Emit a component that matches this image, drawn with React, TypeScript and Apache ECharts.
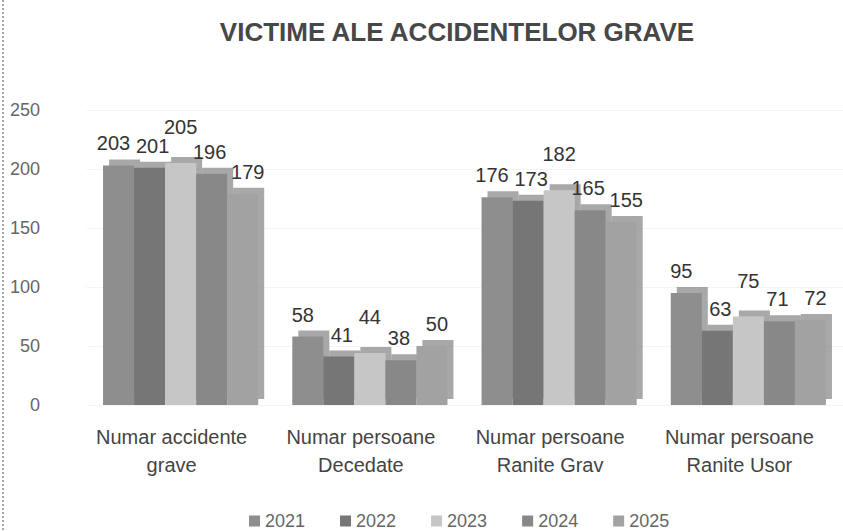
import React, { useEffect, useRef } from "react";
import * as echarts from "echarts";

const categories = ["Numar accidente\ngrave", "Numar persoane\nDecedate", "Numar persoane\nRanite Grav", "Numar persoane\nRanite Usor"];
const years = ["2021", "2022", "2023", "2024", "2025"];
const values2021 = [203, 58, 176, 95];
const values2022 = [201, 41, 173, 63];
const values2023 = [205, 44, 182, 75];
const values2024 = [196, 38, 165, 71];
const values2025 = [179, 50, 155, 72];
const yTicks = [0, 50, 100, 150, 200, 250];
const colors = ["#8e8e8e", "#767676", "#c6c6c6", "#888888", "#a2a2a2"];
const labelOffsets = [[-5, 0], [3, 0], [0, -14], [-2, 0], [5, 0]];

export default function App() {
  const ref = useRef<HTMLDivElement>(null);
  useEffect(() => {
    if (!ref.current) return;
    const chart = echarts.init(ref.current, null, { renderer: "svg" });
    const all = [values2021, values2022, values2023, values2024, values2025];
    chart.setOption({
      animation: false,
      backgroundColor: "#ffffff",
      textStyle: { fontFamily: "Liberation Sans" },
      title: {
        text: "VICTIME ALE ACCIDENTELOR GRAVE",
        left: 452,
        top: 14,
        textAlign: "center",
        textStyle: { fontSize: 26, fontWeight: "bold", color: "#474747", fontFamily: "Liberation Sans" },
      },
      graphic: [
        {
          type: "line",
          shape: { x1: 3, y1: 0, x2: 3, y2: 531 },
          style: { stroke: "#888888", lineWidth: 1.5, lineDash: [2, 2] },
        },
      ],
      legend: {
        bottom: -4,
        left: 244,
        itemWidth: 11,
        itemHeight: 11,
        itemGap: 35,
        itemStyle: {},
        icon: "rect",
        textStyle: { fontSize: 18, color: "#666666" },
        data: years,
      },
      grid: { left: 86, right: -14, top: 110, bottom: 126 },
      xAxis: {
        type: "category",
        data: categories,
        axisLine: { show: false },
        axisTick: { show: false },
        axisLabel: { interval: 0, fontSize: 20, color: "#444444", lineHeight: 28, margin: 18, padding: [0, 18, 0, 0] },
      },
      yAxis: {
        type: "value",
        min: 0,
        max: 250,
        interval: 50,
        axisLine: { show: false },
        axisTick: { show: false },
        splitLine: { lineStyle: { color: "#f4f4f4" } },
        axisLabel: {
          fontSize: 18,
          color: "#666666",
          margin: 46,
          formatter: (v: number) => (yTicks.includes(v) ? String(v) : ""),
        },
      },
      series: years.map((y, i) => ({
        name: y,
        type: "bar",
        data: all[i],
        barGap: "0%",
        barCategoryGap: "18%",
        itemStyle: {
          color: colors[i],
          shadowColor: "rgba(110,110,110,0.6)",
          shadowBlur: 0,
          shadowOffsetX: 6,
          shadowOffsetY: -6,
        },
        label: {
          show: true,
          position: "top",
          fontSize: 20,
          color: "#333333",
          distance: 12,
          offset: labelOffsets[i],
        },
      })),
    });
    return () => chart.dispose();
  }, []);
  return <div ref={ref} style={{ position: "fixed", left: 0, top: 0, width: 843, height: 531 }} />;
}
